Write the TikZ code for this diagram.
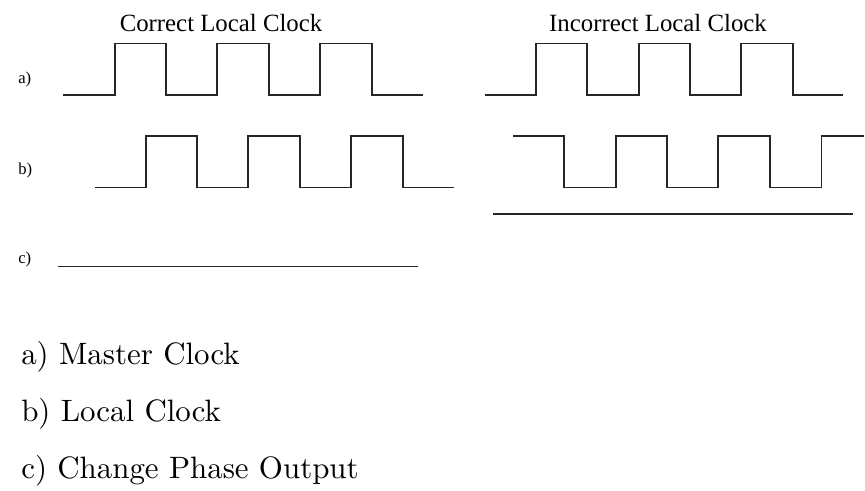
\documentclass[tikz,border=0pt]{standalone}
\usepackage{fontspec}
\newfontfamily\timesfont{Liberation Serif}
\newfontfamily\lmfont{lmroman10-regular.otf}
\tikzset{
  wave/.style={draw=black!85, line width=0.9},
  title/.style={font=\timesfont\fontsize{18.6}{20}\selectfont, anchor=base, inner sep=0pt},
  rowlbl/.style={font=\timesfont\fontsize{12.5}{14}\selectfont, anchor=base west, inner sep=0pt},
  legend/.style={font=\lmfont\fontsize{23.2}{26}\selectfont, anchor=base west, inner sep=0pt}
}
\begin{document}
\begin{tikzpicture}[x=0.75pt, y=-0.75pt]
\useasboundingbox (0,0) rectangle (865,490);
% titles
\node[title] (t1) at (221,31.5) {Correct Local Clock};
\node[title] (t2) at (658,31.5) {Incorrect Local Clock};
% row labels
\node[rowlbl] (la) at (18,83) {a)};
\node[rowlbl] (lb) at (18,174) {b)};
\node[rowlbl] (lc) at (18,263) {c)};
% row a, left
\draw[wave] (63,95) -- (115,95) -- (115,43.5) -- (166,43.5) -- (166,95) -- (217,95) -- (217,43.5) -- (269,43.5) -- (269,95) -- (320,95) -- (320,43.5) -- (372,43.5) -- (372,95) -- (423,95);
% row a, right
\draw[wave] (485,95) -- (536,95) -- (536,43.5) -- (587,43.5) -- (587,95) -- (639,95) -- (639,43.5) -- (690,43.5) -- (690,95) -- (741,95) -- (741,43.5) -- (793,43.5) -- (793,95) -- (843,95);
% row b, left
\draw[wave] (95,187.5) -- (146,187.5) -- (146,136) -- (197,136) -- (197,187.5) -- (248,187.5) -- (248,136) -- (300,136) -- (300,187.5) -- (351,187.5) -- (351,136) -- (403,136) -- (403,187.5) -- (454,187.5);
% row b, right
\draw[wave] (513,136) -- (564,136) -- (564,187.5) -- (616,187.5) -- (616,136) -- (667,136) -- (667,187.5) -- (718,187.5) -- (718,136) -- (770,136) -- (770,187.5) -- (821.5,187.5) -- (821.5,136) -- (864,136);
% row c, right (flat)
\draw[wave] (493,214) -- (853,214);
% row c, left (flat)
\draw[wave] (58,266.5) -- (418,266.5);
% legend
\node[legend] (ga) at (21,364) {a) Master Clock};
\node[legend] (gb) at (21,421) {b) Local Clock};
\node[legend] (gc) at (21,478) {c) Change Phase Output};
\end{tikzpicture}
\end{document}
